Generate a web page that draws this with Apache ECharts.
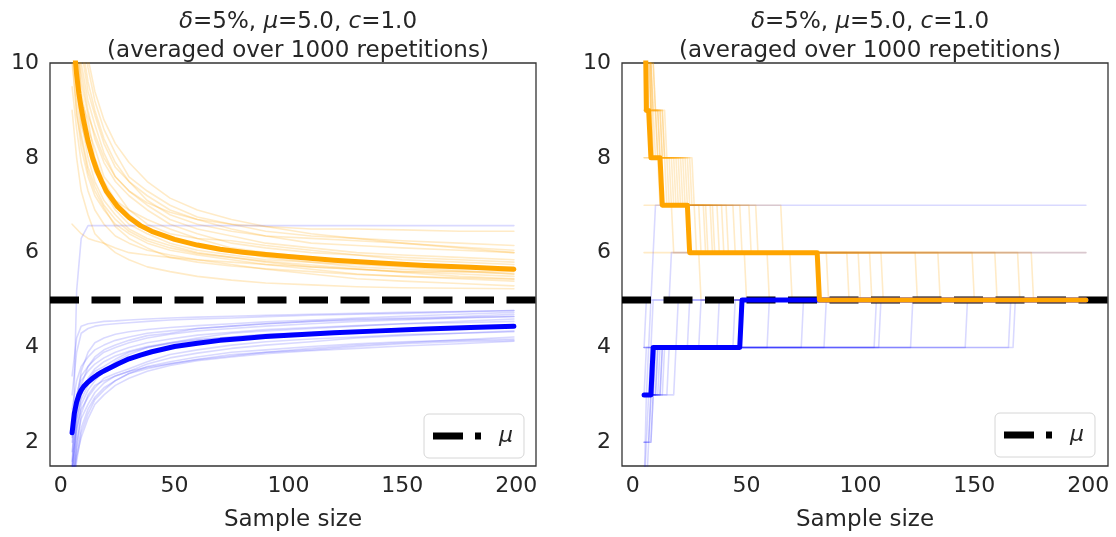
<!DOCTYPE html>
<html><head><meta charset="utf-8">
<script src="https://cdn.jsdelivr.net/npm/echarts@6/dist/echarts.min.js"></script>
<style>html,body{margin:0;padding:0;background:#fff}#c{width:1116px;height:537px}</style>
</head><body><div id="c"></div>
<script>
// ---------- data ----------
const X_TICKS = [0, 50, 100, 150, 200];
const Y_TICKS = [2, 4, 6, 8, 10];
const X_MIN = -4.7, X_MAX = 208.7, Y_MIN = 1.5, Y_MAX = 10;
const MU = 5.0;
const TITLE_L1 = '{i|δ}=5%, {i|μ}=5.0, {i|c}=1.0';
const TITLE_L2 = '(averaged over 1000 repetitions)';
const X_LABEL = 'Sample size';

// left panel: mean bounds
const X_MEAN = [5,6,7,8,9,10,12,14,16,18,20,25,30,35,40,50,60,70,80,90,100,120,140,160,180,199];
const UPPER_MEAN_L = [11.2,10.3,9.75,9.35,9.05,8.8,8.35,8.0,7.72,7.5,7.3,6.97,6.74,6.57,6.45,6.28,6.16,6.07,6.01,5.96,5.92,5.84,5.78,5.73,5.69,5.65];
const LOWER_MEAN_L = [2.2,2.62,2.85,3.0,3.1,3.17,3.27,3.35,3.42,3.48,3.53,3.65,3.76,3.84,3.91,4.02,4.09,4.15,4.19,4.23,4.26,4.31,4.35,4.39,4.42,4.45];

// left panel: individual repetitions
const X_PATH = [5,7,9,12,15,19,24,30,38,48,60,75,90,110,130,150,175,199];
const UPPER_PATHS_L = [
  [12.0,10.6,9.8,9.0,8.4,7.9,7.5,7.2,6.9,6.6,6.4,6.2,6.1,6.0,5.95,5.9,5.85,5.8],
  [11.0,9.5,8.8,8.0,7.5,7.1,6.8,6.5,6.3,6.15,6.0,5.9,5.8,5.7,5.65,5.6,5.55,5.5],
  [13.0,11.2,10.3,9.4,8.9,8.3,7.8,7.5,7.2,6.9,6.7,6.5,6.35,6.2,6.15,6.1,6.05,6.0],
  [10.0,9.0,8.2,7.6,7.2,6.9,6.6,6.4,6.2,6.05,5.95,5.85,5.75,5.65,5.55,5.5,5.45,5.4],
  [11.5,10.2,9.4,8.6,8.2,7.6,7.3,6.9,6.6,6.4,6.3,6.25,6.15,6.05,5.95,5.85,5.8,5.75],
  [12.5,10.8,9.2,8.8,8.0,7.5,7.1,6.9,6.7,6.5,6.3,6.1,6.0,5.9,5.8,5.75,5.7,5.7],
  [9.5,8.6,7.9,7.3,6.9,6.6,6.35,6.2,6.05,5.95,5.85,5.75,5.65,5.55,5.45,5.4,5.35,5.3],
  [14.0,12.0,10.8,9.9,9.2,8.6,8.1,7.6,7.3,7.0,6.75,6.6,6.45,6.35,6.3,6.25,6.2,6.15],
  [11.8,10.0,9.0,8.5,7.9,7.3,6.9,6.6,6.4,6.2,6.05,5.95,5.85,5.8,5.75,5.7,5.62,5.55],
  [10.5,9.8,8.7,8.2,7.7,7.4,7.1,6.8,6.5,6.3,6.15,6.05,5.9,5.8,5.7,5.65,5.6,5.6],
  [6.6,6.5,6.4,6.3,6.25,6.2,6.1,6.0,5.95,5.9,5.85,5.8,5.75,5.7,5.65,5.6,5.6,5.55],
  [12.2,11.0,10.0,9.2,8.7,8.1,7.6,7.3,7.0,6.7,6.5,6.35,6.2,6.1,6.0,5.95,5.9,5.85],
  [10.8,9.3,8.5,7.8,7.4,7.0,6.7,6.45,6.25,6.1,5.98,5.9,5.82,5.74,5.66,5.58,5.5,5.45],
  [13.5,11.5,10.5,9.6,9.0,8.4,7.9,7.5,7.1,6.8,6.6,6.45,6.35,6.3,6.25,6.2,6.12,6.05],
  [9.0,8.0,7.3,6.8,6.4,6.2,6.0,5.85,5.7,5.6,5.5,5.42,5.36,5.32,5.28,5.26,5.25,5.24],
  [12.0,10.5,9.6,8.9,8.5,8.0,7.6,7.3,7.05,6.85,6.7,6.6,6.55,6.5,6.5,6.48,6.45,6.45],
  [15.0,12.5,11.0,10.1,9.4,8.8,8.3,7.9,7.5,7.15,6.9,6.7,6.55,6.4,6.3,6.2,6.1,6.0],
  [10.2,8.9,8.4,7.7,7.3,6.95,6.55,6.3,6.1,5.9,5.8,5.72,5.66,5.6,5.54,5.5,5.47,5.44]
];
const LOWER_PATHS_L = [
  [1.2,2.2,2.8,3.1,3.3,3.5,3.7,3.85,4.0,4.1,4.2,4.3,4.35,4.4,4.45,4.5,4.55,4.6],
  [1.6,2.6,3.2,3.6,3.8,3.95,4.05,4.15,4.25,4.3,4.4,4.45,4.5,4.55,4.6,4.62,4.65,4.7],
  [1.0,1.8,2.3,2.7,2.95,3.15,3.3,3.45,3.6,3.7,3.8,3.9,3.95,4.02,4.08,4.12,4.15,4.18],
  [2.4,3.0,3.4,3.6,3.75,3.9,4.0,4.1,4.2,4.28,4.35,4.4,4.45,4.5,4.55,4.58,4.62,4.65],
  [1.4,2.3,2.7,2.95,3.15,3.35,3.45,3.55,3.7,3.85,3.95,4.05,4.12,4.18,4.22,4.27,4.3,4.35],
  [0.8,1.6,2.2,2.6,2.9,3.1,3.3,3.45,3.55,3.65,3.75,3.85,3.9,3.95,4.02,4.08,4.12,4.15],
  [3.0,3.9,4.3,4.4,4.45,4.48,4.5,4.52,4.55,4.58,4.6,4.62,4.65,4.68,4.7,4.72,4.75,4.78],
  [1.8,2.7,3.0,3.3,3.5,3.6,3.75,3.9,4.0,4.08,4.15,4.22,4.28,4.32,4.36,4.4,4.43,4.47],
  [1.1,2.0,2.5,2.8,3.05,3.25,3.4,3.5,3.65,3.78,3.88,3.98,4.05,4.12,4.2,4.25,4.3,4.33],
  [2.1,2.9,3.3,3.5,3.65,3.78,3.9,4.0,4.1,4.18,4.26,4.32,4.38,4.42,4.46,4.5,4.52,4.55],
  [1.3,2.4,3.0,3.35,3.55,3.7,3.82,3.92,4.02,4.1,4.17,4.22,4.27,4.31,4.35,4.38,4.41,4.44],
  [0.9,1.7,2.1,2.5,2.8,3.0,3.2,3.35,3.5,3.62,3.72,3.8,3.87,3.93,3.98,4.03,4.08,4.13],
  [2.7,3.3,3.6,3.8,3.95,4.05,4.15,4.22,4.3,4.35,4.4,4.45,4.5,4.55,4.58,4.6,4.63,4.66],
  [1.5,2.5,2.9,3.2,3.4,3.55,3.65,3.78,3.9,4.0,4.08,4.16,4.22,4.27,4.32,4.36,4.4,4.42],
  [1.3,5.2,6.3,6.57,6.57,6.57,6.57,6.57,6.57,6.57,6.57,6.57,6.57,6.57,6.57,6.57,6.57,6.57],
  [2.0,2.9,3.5,3.9,4.1,4.2,4.28,4.33,4.38,4.42,4.46,4.5,4.54,4.58,4.62,4.66,4.7,4.74],
  [1.0,1.9,2.6,3.0,3.2,3.3,3.4,3.5,3.58,3.66,3.74,3.82,3.9,3.98,4.05,4.1,4.16,4.22],
  [3.4,4.2,4.45,4.5,4.52,4.55,4.56,4.58,4.6,4.62,4.64,4.66,4.68,4.7,4.72,4.74,4.76,4.78]
];

// right panel: step paths as [sampleSize, newValue] change events
const UPPER_MEAN_R = [[5,13],[6,9],[8,8],[13,7],[25,6],[82,5]];
const LOWER_MEAN_R = [[5,3],[9,4],[48,5]];
const UPPER_PATHS_R = [
  [[5,12],[6,10],[9,9],[13,8],[22,7],[40,6],[100,5]],
  [[5,11],[7,9],[10,8],[16,7],[30,6],[70,5]],
  [[5,10],[8,9],[12,8],[24,7],[45,6],[125,5]],
  [[5,9],[11,8],[20,7],[35,6],[86,5]],
  [[5,13],[6,11],[8,9],[14,8],[26,7],[55,6],[150,5]],
  [[5,8],[15,7],[28,6],[60,5]],
  [[5,10],[7,9],[11,8],[19,7],[42,6],[110,5]],
  [[5,12],[7,10],[10,9],[14,8],[25,7],[66,6],[170,5]],
  [[5,7],[18,6],[50,5]],
  [[5,11],[8,9],[13,8],[21,7],[38,6]],
  [[5,9],[9,8],[17,7],[32,6],[95,5]],
  [[5,14],[6,12],[7,10],[9,9],[12,8],[23,7],[48,6],[135,5]],
  [[5,6],[30,5]],
  [[5,10],[10,9],[15,8],[27,7],[52,6],[176,5]],
  [[5,8],[12,7],[33,6],[105,5]],
  [[5,11],[7,10],[9,8],[18,7],[36,6],[160,5]]
];
const LOWER_PATHS_R = [
  [[5,1],[6,2],[8,3],[12,4],[30,5]],
  [[5,2],[9,3],[14,4],[60,5]],
  [[5,3],[7,4],[20,5]],
  [[5,3],[19,4],[107,5]],
  [[5,1],[6,3],[10,4],[45,5]],
  [[5,2],[8,3],[11,4],[168,5]],
  [[5,4],[9,5],[17,6]],
  [[5,3],[6,4],[8,5],[9,6],[10,7]],
  [[5,3],[13,4],[75,5]],
  [[5,4],[25,5]],
  [[5,2],[7,3],[16,4],[123,5]],
  [[5,3],[10,4],[147,5]],
  [[5,4],[38,5]],
  [[5,3],[8,4],[166,5]],
  [[5,4],[6,5]],
  [[5,3],[11,4],[85,5]],
  [[5,1],[7,2],[9,3],[13,4],[109,5]]
];
const N_LAST = 199;

// ---------- build ----------
const ORANGE = '#FFA500', BLUE = '#0000FF';
const FAINT_O = 'rgba(255,165,0,0.22)', FAINT_B = 'rgba(0,0,255,0.15)';
const FONT = 'DejaVu Sans';
const FS_TITLE = 23, FS_TICK = 22, FS_LABEL = 23;
const TXT = '#262626';

function stepPoints(ev) {
  const pts = [[ev[0][0], ev[0][1]]];
  for (let k = 1; k < ev.length; k++) {
    const prev = pts[pts.length - 1][1];
    pts.push([ev[k][0] - 1, prev]);
    pts.push([ev[k][0], ev[k][1]]);
  }
  pts.push([N_LAST, pts[pts.length - 1][1]]);
  return pts;
}
function zip(xs, ys) { return xs.map((x, i) => [x, ys[i]]); }
function line(g, data, color, width, z) {
  return { type: 'line', xAxisIndex: g, yAxisIndex: g, data, symbol: 'none', silent: true,
    animation: false, z, lineStyle: { color, width, cap: 'round', join: 'round' } };
}
const series = [];
UPPER_PATHS_L.forEach(p => series.push(line(0, zip(X_PATH, p), FAINT_O, 1.6, 2)));
LOWER_PATHS_L.forEach(p => series.push(line(0, zip(X_PATH, p), FAINT_B, 1.6, 2)));
UPPER_PATHS_R.forEach(p => series.push(line(1, stepPoints(p), FAINT_O, 1.6, 2)));
LOWER_PATHS_R.forEach(p => series.push(line(1, stepPoints(p), FAINT_B, 1.6, 2)));
[0, 1].forEach(g => series.push({
  type: 'line', name: 'μ', xAxisIndex: g, yAxisIndex: g, data: [[X_MIN, MU], [X_MAX, MU]],
  symbol: 'none', silent: true, z: 3, color: '#000',
  lineStyle: { color: '#000', width: 7, type: [29, 12.5], cap: 'butt' }
}));
series.push(line(0, zip(X_MEAN, UPPER_MEAN_L), ORANGE, 5, 4));
series.push(line(0, zip(X_MEAN, LOWER_MEAN_L), BLUE, 5, 4));
series.push(line(1, stepPoints(LOWER_MEAN_R), BLUE, 5, 4));
series.push(line(1, stepPoints(UPPER_MEAN_R), ORANGE, 5, 4));

const GRIDS = [{ left: 50, top: 63, width: 486, height: 405 }, { left: 622, top: 63, width: 486, height: 405 }];
const grid = GRIDS.map(g => Object.assign({ show: true, borderColor: '#333', borderWidth: 1.3, backgroundColor: '#fff' }, g));
const xAxis = [0, 1].map(g => ({
  type: 'value', gridIndex: g, min: X_MIN, max: X_MAX, name: X_LABEL, nameLocation: 'middle', nameGap: 43,
  nameTextStyle: { fontFamily: FONT, fontSize: FS_LABEL, color: TXT },
  axisLine: { show: false }, axisTick: { show: false }, splitLine: { show: false },
  axisLabel: { customValues: X_TICKS, margin: 9, fontFamily: FONT, fontSize: FS_TICK, color: TXT }
}));
const yAxis = [0, 1].map(g => ({
  type: 'value', gridIndex: g, min: Y_MIN, max: Y_MAX,
  axisLine: { show: false }, axisTick: { show: false }, splitLine: { show: false },
  axisLabel: { customValues: Y_TICKS, margin: 11, fontFamily: FONT, fontSize: FS_TICK, color: TXT }
}));
const title = GRIDS.map(g => ({
  text: TITLE_L1 + '\n' + TITLE_L2, left: g.left + g.width / 2, textAlign: 'center', top: 3,
  textStyle: { fontFamily: FONT, fontSize: FS_TITLE, fontWeight: 'normal', color: TXT, lineHeight: 29,
    rich: { i: { fontStyle: 'italic', fontFamily: FONT, fontSize: FS_TITLE, color: TXT, lineHeight: 29 } } }
}));
const legend = [{ left: 424, top: 414 }, { left: 995, top: 413 }].map(p => Object.assign({
  data: ['μ'], orient: 'horizontal', icon: 'path://M0 0H30V7H0Z M42 0H48V7H42Z', itemWidth: 48, itemHeight: 7,
  padding: [11, 11, 11, 9], borderColor: '#d6d6d6', borderWidth: 1, borderRadius: 5,
  backgroundColor: 'rgba(255,255,255,0.85)', selectedMode: false,
  itemStyle: { color: '#000', borderWidth: 0 }, lineStyle: { width: 0 },
  textStyle: { fontFamily: FONT, fontSize: FS_TICK, fontStyle: 'italic', color: TXT, padding: [0, 0, 0, 13], lineHeight: 20 }
}, p));

const chart = echarts.init(document.getElementById('c'), null, { renderer: 'canvas' });
chart.setOption({ animation: false, backgroundColor: '#fff', title, legend, grid, xAxis, yAxis, series });
</script></body></html>
